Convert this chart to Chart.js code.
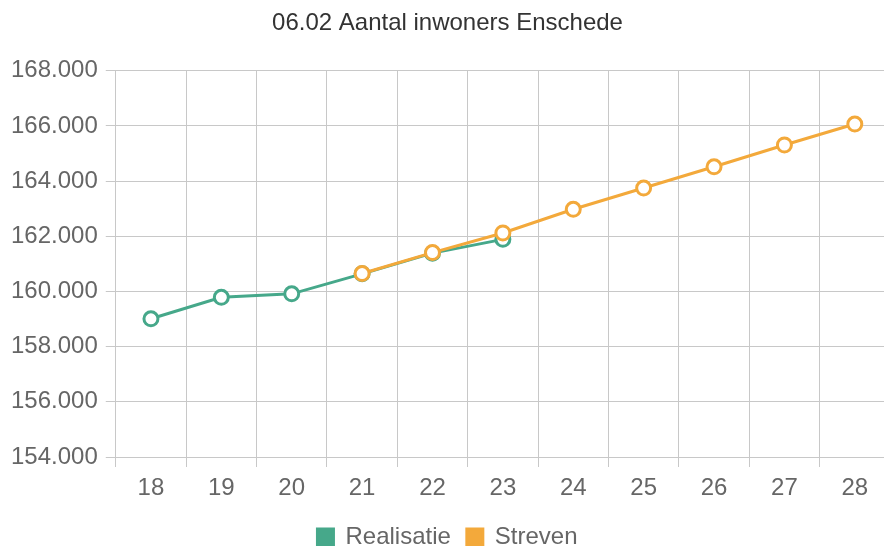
<!DOCTYPE html>
<html>
<head>
<meta charset="utf-8">
<script src="https://cdn.jsdelivr.net/npm/chart.js@4/dist/chart.umd.min.js"></script>
<style>
  html, body { margin: 0; padding: 0; background: #fff; overflow: hidden; }
  #wrap { width: 900px; height: 559px; }
</style>
</head>
<body>
<div id="wrap"><canvas id="chart"></canvas></div>
<script>
const years = ["18", "19", "20", "21", "22", "23", "24", "25", "26", "27", "28"];
const realisatie = [159010, 159790, 159915, 160640, 161390, 161890, null, null, null, null, null];
const streven = [null, null, null, 160650, 161410, 162120, 162980, 163750, 164520, 165310, 166070];
const yTicks = [154000, 156000, 158000, 160000, 162000, 164000, 166000, 168000];

const green = "#46a88a";
const orange = "#f3a93b";
const fam = "'Liberation Sans', Arial, sans-serif";

function dots(v) {
  return String(v).replace(/\B(?=(\d{3})+(?!\d))/g, ".");
}

new Chart(document.getElementById("chart"), {
  type: "line",
  data: {
    labels: years,
    datasets: [
      {
        label: "Realisatie",
        data: realisatie,
        borderColor: green,
        backgroundColor: green,
        pointBackgroundColor: "#fff",
        pointBorderColor: green,
        pointRadius: 7,
        pointBorderWidth: 3,
        borderWidth: 3,
        tension: 0,
        order: 1
      },
      {
        label: "Streven",
        data: streven,
        borderColor: orange,
        backgroundColor: orange,
        pointBackgroundColor: "#fff",
        pointBorderColor: orange,
        pointRadius: 7,
        pointBorderWidth: 3,
        borderWidth: 3,
        tension: 0,
        order: 0
      }
    ]
  },
  options: {
    responsive: true,
    maintainAspectRatio: false,
    animation: false,
    layout: { padding: { left: 3, right: 8, top: 0, bottom: 0 } },
    plugins: {
      title: {
        display: true,
        text: "06.02 Aantal inwoners Enschede",
        color: "#333",
        font: { family: fam, size: 24, weight: "normal" },
        padding: { top: 9, bottom: 33 }
      },
      legend: {
        position: "bottom",
        labels: {
          sort: (a, b) => a.datasetIndex - b.datasetIndex,
          boxWidth: 16,
          boxHeight: 16,
          color: "#666",
          font: { family: fam, size: 24 },
          padding: 16
        }
      },
      tooltip: { enabled: false }
    },
    scales: {
      x: {
        offset: true,
        grid: { color: "#c8c8c8", offset: true, tickLength: 10 },
        border: { color: "#c8c8c8" },
        ticks: { color: "#666", font: { family: fam, size: 24 }, padding: 7 },
        afterFit: axis => { axis.height = 52; }
      },
      y: {
        min: 154000,
        max: 168000,
        afterBuildTicks: axis => { axis.ticks = yTicks.map(v => ({ value: v })); },
        grid: { color: "#c8c8c8", tickLength: 10 },
        border: { color: "#c8c8c8" },
        ticks: {
          color: "#666",
          font: { family: fam, size: 24 },
          padding: 8,
          callback: v => dots(v)
        }
      }
    }
  }
});
</script>
</body>
</html>
